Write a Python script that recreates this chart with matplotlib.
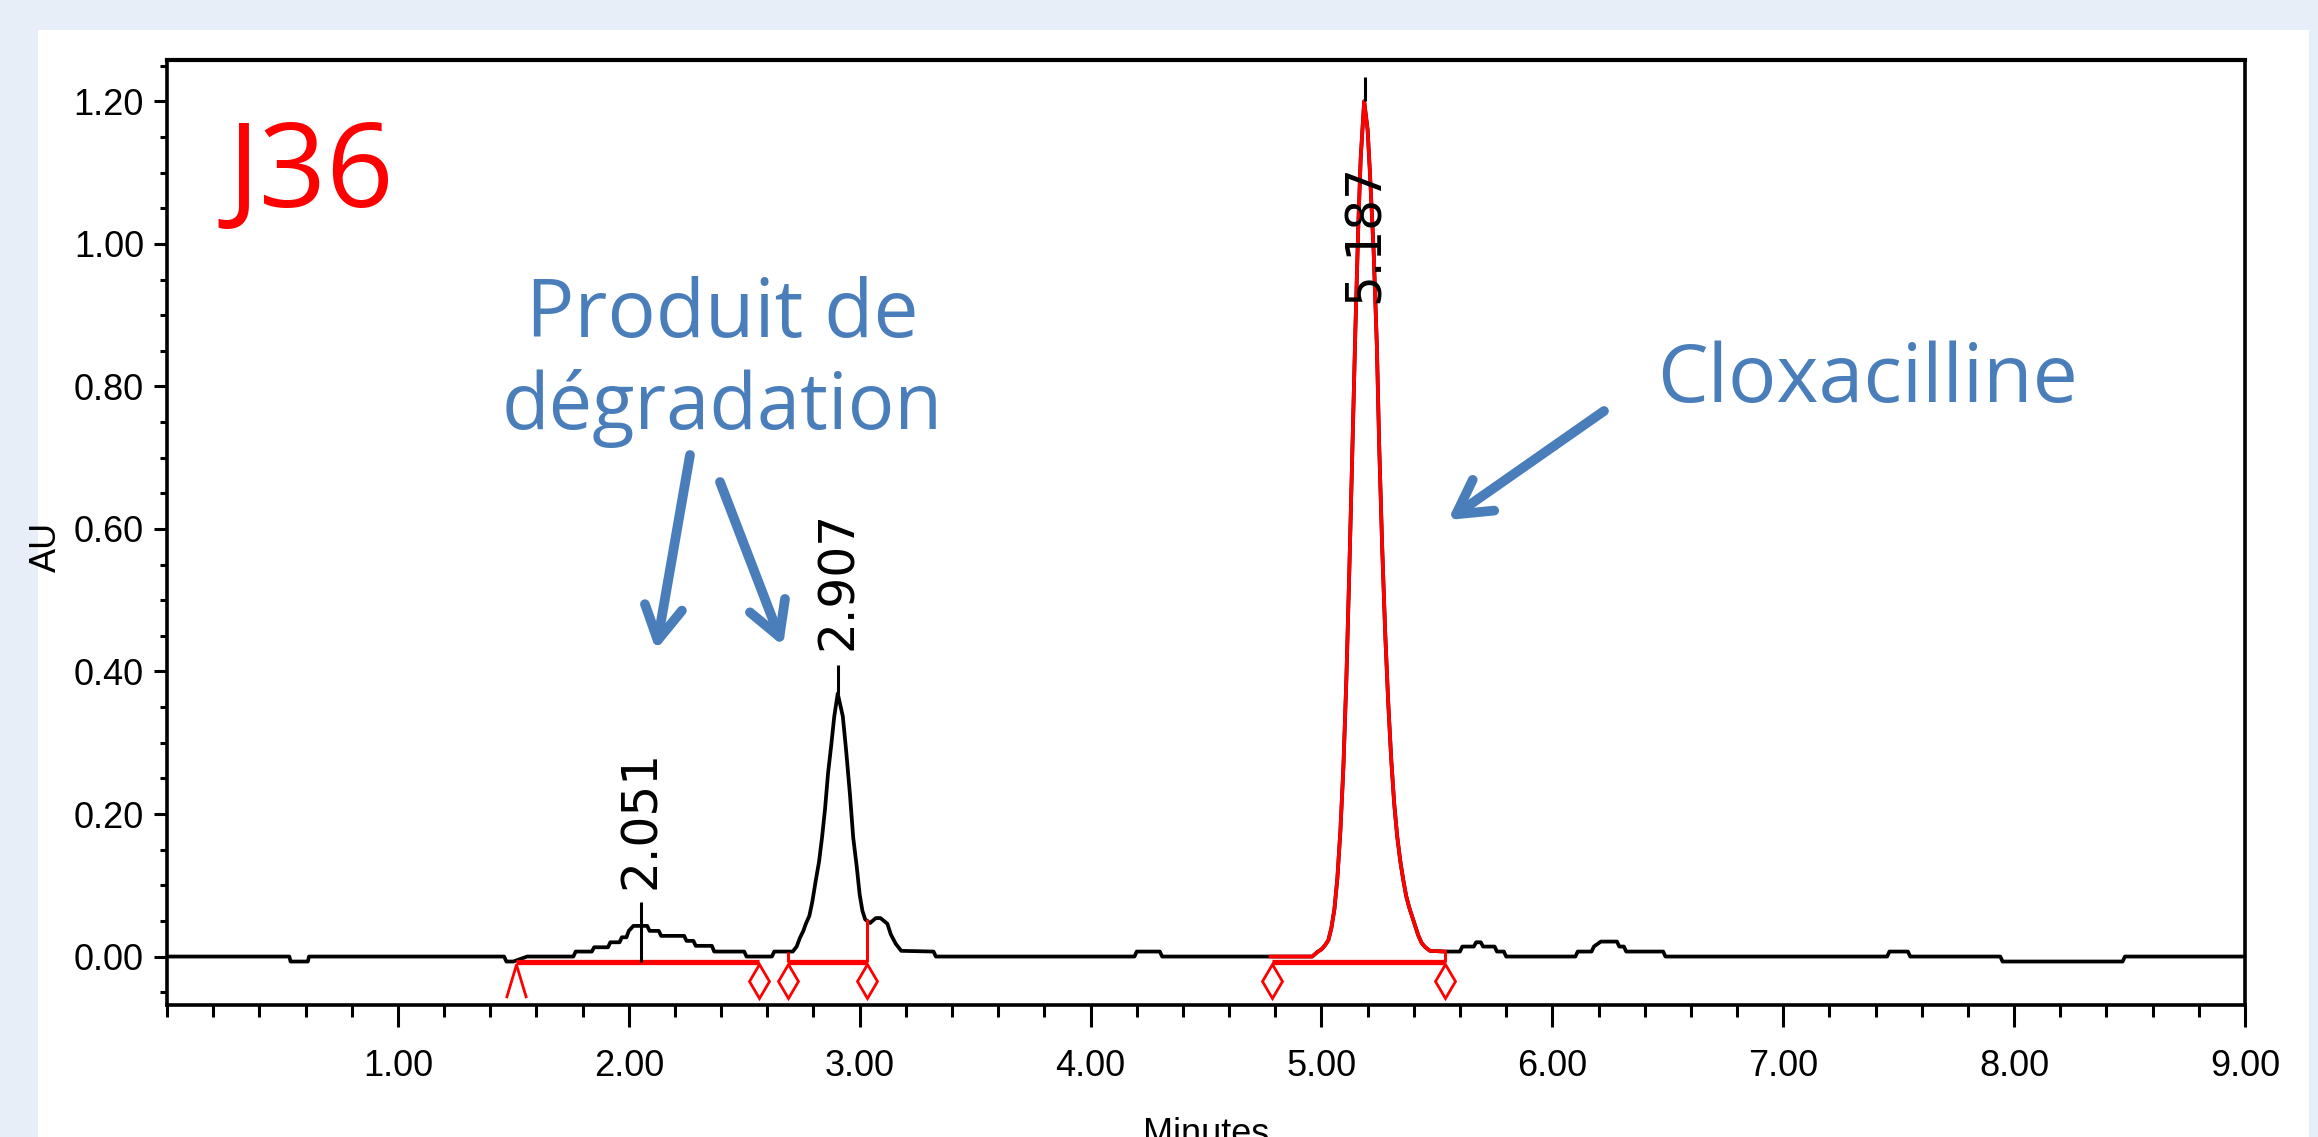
import matplotlib.pyplot as plt
from matplotlib.patches import Rectangle
from matplotlib.path import Path
from matplotlib.ticker import MultipleLocator

plt.rcParams.update({
    'font.family': ['Liberation Sans', 'DejaVu Sans'],
    'font.size': 26,
    'axes.linewidth': 2.6,
    'xtick.direction': 'out',
    'ytick.direction': 'out',
})

# --- chromatogramme (J36) : temps en minutes, absorbance en AU ---
time_min = [
    0.00, 0.53, 0.535, 0.61, 0.615, 1.46, 1.47, 1.50, 1.56, 1.76,
    1.77, 1.84, 1.85, 1.91, 1.92, 1.96, 1.97, 1.99, 2.00, 2.02,
    2.08, 2.09, 2.13, 2.14, 2.24, 2.25, 2.28, 2.29, 2.36, 2.37,
    2.50, 2.51, 2.62, 2.63, 2.71, 2.727, 2.741, 2.756, 2.767, 2.782,
    2.795, 2.81, 2.824, 2.837, 2.85, 2.863, 2.877, 2.89, 2.905, 2.927,
    2.942, 2.958, 2.972, 2.987, 3.00, 3.012, 3.024, 3.045, 3.07, 3.09,
    3.12, 3.135, 3.156, 3.18, 3.32, 3.33, 4.19, 4.20, 4.30, 4.31,
    4.78, 4.96, 4.985, 5.00, 5.016, 5.03, 5.043, 5.056, 5.069, 5.082,
    5.095, 5.108, 5.121, 5.134, 5.147, 5.160, 5.17, 5.185, 5.20, 5.21,
    5.226, 5.24, 5.25, 5.263, 5.276, 5.289, 5.302, 5.315, 5.328, 5.341,
    5.354, 5.367, 5.38, 5.393, 5.406, 5.419, 5.434, 5.45, 5.47, 5.535,
    5.60, 5.61, 5.66, 5.67, 5.69, 5.70, 5.75, 5.76, 5.79, 5.80,
    6.10, 6.11, 6.17, 6.18, 6.21, 6.28, 6.29, 6.31, 6.32, 6.48,
    6.49, 7.45, 7.46, 7.54, 7.55, 7.94, 7.95, 8.47, 8.48, 9.00,
]
absorbance = [
    0.0, 0.0, -0.007, -0.007, 0.0, 0.0, -0.007, -0.007, 0.0, 0.0,
    0.007, 0.007, 0.013, 0.013, 0.020, 0.020, 0.027, 0.027, 0.036, 0.043,
    0.043, 0.036, 0.036, 0.029, 0.029, 0.022, 0.022, 0.015, 0.015, 0.007,
    0.007, 0.0, 0.0, 0.007, 0.007, 0.014, 0.026, 0.036, 0.046, 0.057,
    0.077, 0.107, 0.133, 0.167, 0.207, 0.257, 0.297, 0.337, 0.369, 0.337,
    0.287, 0.227, 0.167, 0.127, 0.087, 0.064, 0.052, 0.047, 0.054, 0.054,
    0.046, 0.031, 0.018, 0.008, 0.007, 0.0, 0.0, 0.007, 0.007, 0.0,
    0.0, 0.0, 0.007, 0.010, 0.016, 0.023, 0.040, 0.066, 0.110, 0.176,
    0.265, 0.390, 0.545, 0.710, 0.880, 1.030, 1.120, 1.200, 1.160, 1.100,
    0.990, 0.857, 0.718, 0.575, 0.455, 0.358, 0.278, 0.215, 0.169, 0.135,
    0.108, 0.085, 0.069, 0.056, 0.043, 0.030, 0.019, 0.013, 0.008, 0.007,
    0.007, 0.014, 0.014, 0.020, 0.020, 0.014, 0.014, 0.007, 0.007, 0.0,
    0.0, 0.007, 0.007, 0.014, 0.021, 0.021, 0.014, 0.014, 0.007, 0.007,
    0.0, 0.0, 0.007, 0.007, 0.0, 0.0, -0.007, -0.007, 0.0, 0.0,
]

# pic intégré en rouge (cloxacilline)
red_start, red_end = 4.78, 5.535

# lignes de base d'intégration
baseline_start = [1.51, 2.69, 4.785]
baseline_end = [2.565, 3.03, 5.535]
baseline_level = -0.007
drop_time = [2.69, 3.03, 5.535]
drop_top = [0.007, 0.052, 0.007]
start_marker_time = [1.51]
end_marker_time = [2.565, 2.69, 3.03, 4.785, 5.535]
marker_level = -0.034

# temps de rétention
peak_rt = [2.051, 2.907, 5.187]
peak_labels = ['2.051', '2.907', '5.187']
peak_tick_low = [-0.007, 0.369, 1.200]
peak_tick_high = [0.076, 0.409, 1.234]
peak_label_y = [0.095, 0.43, 0.917]

x_ticks = [1, 2, 3, 4, 5, 6, 7, 8, 9]
x_tick_labels = ['1.00', '2.00', '3.00', '4.00', '5.00', '6.00', '7.00', '8.00', '9.00']
y_ticks = [0.0, 0.2, 0.4, 0.6, 0.8, 1.0, 1.2]
y_tick_labels = ['0.00', '0.20', '0.40', '0.60', '0.80', '1.00', '1.20']

W, H = 2318, 1137
blue = '#4A7EBB'
red = '#FF0000'

fig = plt.figure(figsize=(W / 100, H / 100), dpi=100, facecolor='#E7EEF8')
# panneau blanc
fig.add_artist(Rectangle((38 / W, 0), (2309 - 38) / W, (H - 30) / H,
                         transform=fig.transFigure, facecolor='white',
                         edgecolor='none', zorder=0))

ax = fig.add_axes([167 / W, 1 - 1005 / H, (2245 - 167) / W, (1005 - 60) / H])
ax.set_facecolor('white')

# trace noire puis pic rouge par-dessus
ax.plot(time_min, absorbance, color='black', lw=2.7, zorder=3)
red_t = [t for t in time_min if red_start <= t <= red_end]
red_a = [a for t, a in zip(time_min, absorbance) if red_start <= t <= red_end]
ax.plot(red_t, red_a, color=red, lw=2.7, zorder=4)

# lignes de base et repères d'intégration
ax.hlines([baseline_level] * len(baseline_start), baseline_start, baseline_end,
          color=red, lw=3.8, zorder=5)
ax.vlines(drop_time, [baseline_level] * len(drop_time), drop_top,
          color=red, lw=2.2, zorder=5)
caret = Path([(-0.6, -1), (0, 1), (0.6, -1)], [Path.MOVETO, Path.LINETO, Path.LINETO])
ax.plot(start_marker_time, [marker_level] * len(start_marker_time), ls='none',
        marker=caret, ms=24, mfc='none', mec=red, mew=2.0, zorder=5)
ax.plot(end_marker_time, [marker_level] * len(end_marker_time), ls='none',
        marker='d', ms=17, mfc='white', mec=red, mew=2.0, zorder=5)

# repères et étiquettes des pics
ax.vlines(peak_rt, peak_tick_low, peak_tick_high, color='black', lw=2.2, zorder=6)
for rt, lab, y in zip(peak_rt, peak_labels, peak_label_y):
    ax.text(rt, y, lab, rotation=90, ha='center', va='bottom',
            fontsize=35, family='DejaVu Sans', zorder=7)

# axes
ax.set_xlim(0, 9)
ax.set_ylim(-0.068, 1.258)
ax.set_xticks(x_ticks)
ax.set_xticklabels(x_tick_labels)
ax.set_yticks(y_ticks)
ax.set_yticklabels(y_tick_labels)
ax.xaxis.set_minor_locator(MultipleLocator(0.2))
ax.yaxis.set_minor_locator(MultipleLocator(0.05))
ax.tick_params(axis='x', which='major', length=16, width=2.2, pad=16)
ax.tick_params(axis='x', which='minor', length=8.5, width=2.2)
ax.tick_params(axis='y', which='major', length=9.5, width=2.2, pad=7)
ax.tick_params(axis='y', which='minor', length=5, width=2.2)
ax.spines['top'].set_linewidth(3.0)

ax.set_xlabel('Minutes', va='top')
ax.xaxis.set_label_coords(0.5, -0.118)
ax.set_ylabel('AU', va='center')
ax.yaxis.set_label_coords(-0.058, 0.485)

# annotations
fig.text(227 / W, 1 - 207 / H, 'J36', color=red, fontsize=85,
         family='Open Sans', ha='left', va='baseline')
fig.text(722 / W, 1 - 337 / H, 'Produit de', color=blue, fontsize=58,
         family='Open Sans', ha='center', va='baseline')
fig.text(722 / W, 1 - 429 / H, 'dégradation', color=blue, fontsize=56,
         family='Open Sans', ha='center', va='baseline')
fig.text(1868 / W, 1 - 402 / H, 'Cloxacilline', color=blue, fontsize=58,
         family='Open Sans', ha='center', va='baseline')

arrows = [((690, 455), (656, 650)), ((720, 482), (783, 646)), ((1604, 411), (1448, 520))]
for (x0, y0), (x1, y1) in arrows:
    ax.annotate('', xy=(x1 / W, 1 - y1 / H), xytext=(x0 / W, 1 - y0 / H),
                xycoords='figure fraction', textcoords='figure fraction',
                arrowprops=dict(arrowstyle='->,head_length=0.8,head_width=0.45',
                                mutation_scale=30, lw=7, color=blue,
                                shrinkA=0, shrinkB=0, capstyle='round',
                                joinstyle='round'))

fig.savefig('out.png', dpi=100, facecolor=fig.get_facecolor())
